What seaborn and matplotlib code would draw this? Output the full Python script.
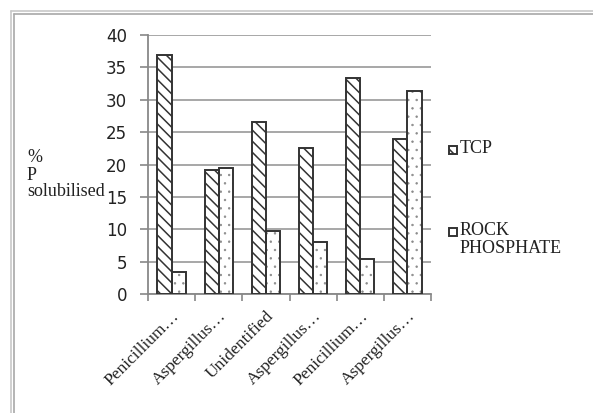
import matplotlib
matplotlib.use("Agg")
import matplotlib.pyplot as plt
import matplotlib.transforms as mtransforms
from matplotlib.patches import Patch, Rectangle
from matplotlib.lines import Line2D
from matplotlib.legend_handler import HandlerPatch
import seaborn as sns
import pandas as pd

# Fungal isolates and percentage of phosphate solubilised
isolates = ["Penicillium…", "Aspergillus…", "Unidentified",
            "Aspergillus…", "Penicillium…", "Aspergillus…"]
tcp = [36.9, 19.2, 26.5, 22.6, 33.4, 23.9]
rock_phosphate = [3.4, 19.5, 9.7, 8.0, 5.4, 31.3]
series = ["TCP", "ROCK\nPHOSPHATE"]
y_ticks = [0, 5, 10, 15, 20, 25, 30, 35, 40]

rows = []
for i, name in enumerate(isolates):
    rows.append({"isolate": i, "source": series[0], "value": tcp[i]})
    rows.append({"isolate": i, "source": series[1], "value": rock_phosphate[i]})
df = pd.DataFrame(rows)

sns.set_style("white")
plt.rcParams["hatch.linewidth"] = 1.1
serif = "Liberation Serif"
edge = "#333333"
dot_col = "#8a8a8a"

fig = plt.figure(figsize=(5.93, 4.13), dpi=100)
ax = fig.add_axes([148 / 593, 1 - 294 / 413, 283 / 593, 259 / 413])

sns.barplot(data=df, x="isolate", y="value", hue="source", hue_order=series,
            palette=["white", "white"], width=0.6, gap=0, ax=ax,
            legend=False, errorbar=None, linewidth=1.4, edgecolor=edge,
            zorder=3)

hatches = ["\\\\\\", ".."]
hatch_cols = [edge, dot_col]
hatch_lws = [1.1, 0.5]


def style_hatch(p, h, hc, hlw):
    # hatch colour follows the edge colour, so the outline is drawn separately
    p.set_hatch(h)
    p.set_edgecolor(hc)
    if hasattr(p, "set_hatch_linewidth"):
        p.set_hatch_linewidth(hlw)


for cont, h, hc, hlw in zip(ax.containers, hatches, hatch_cols, hatch_lws):
    for bar in cont:
        style_hatch(bar, h, hc, hlw)
        bar.set_linewidth(0)
        bar.set_zorder(3)
        outline = Rectangle(bar.get_xy(), bar.get_width(), bar.get_height(),
                            facecolor="none", edgecolor=edge, linewidth=1.4,
                            zorder=4)
        ax.add_patch(outline)

ax.set_ylim(0, 40)
ax.set_xlim(-0.5, len(isolates) - 0.5)
ax.set_yticks(y_ticks)
ax.set_yticklabels([str(t) for t in y_ticks], fontsize=12, color="#222222",
                   family="DejaVu Sans")
ax.yaxis.grid(True, color="#a0a0a0", linewidth=1.3, zorder=0)
ax.set_axisbelow(True)

ax.set_xticks(range(len(isolates)))
ax.set_xticklabels(isolates, rotation=45, ha="right", rotation_mode="anchor",
                   fontsize=12.5, family=serif, color="#222222")
shift = mtransforms.ScaledTranslation(4 / 100, 1 / 100, fig.dpi_scale_trans)
for lab in ax.get_xticklabels():
    lab.set_transform(lab.get_transform() + shift)
ax.set_xticks([i - 0.5 for i in range(len(isolates) + 1)], minor=True)
ax.tick_params(axis="x", which="major", length=0, pad=10)
ax.tick_params(axis="x", which="minor", length=5, width=1.2, color="#888888",
               direction="out", bottom=True)
ax.tick_params(axis="y", length=6, width=1.2, color="#888888", direction="out",
               left=True, pad=9)
ax.set_xlabel("")

for side in ["top", "right"]:
    ax.spines[side].set_visible(False)
for side in ["left", "bottom"]:
    ax.spines[side].set_color("#888888")
    ax.spines[side].set_linewidth(1.3)

ax.set_ylabel("%\nP\nsolubilised", rotation=0, ha="left", va="center",
              multialignment="left", fontsize=13, family=serif,
              color="#222222", linespacing=1.0)
ax.yaxis.set_label_coords((27 - 148) / 283, (294 - 175) / 259)


def square_key(legend, orig_handle, xdescent, ydescent, width, height, fontsize):
    # small square sitting at the bottom of a taller key box
    return Rectangle((-xdescent, -ydescent), width, width)


handles = [Patch(facecolor="white", edgecolor=edge, hatch=hatches[0], linewidth=1.4),
           Patch(facecolor="white", edgecolor=edge, linewidth=1.4)]
leg = fig.legend(handles, series, loc="upper left",
                 bbox_to_anchor=(449 / 593, 1 - 140 / 413),
                 frameon=False, handlelength=0.45,
                 handleheight=0.8, handletextpad=0.15, labelspacing=3.6,
                 borderpad=0, borderaxespad=0,
                 handler_map={Patch: HandlerPatch(patch_func=square_key)},
                 prop={"family": serif, "size": 13})
for t in leg.get_texts():
    t.set_color("#222222")
    t.set_linespacing(1.05)
# put each key square beside the first line of its label
for col in leg._legend_handle_box.get_children():
    for row in col.get_children():
        row.align = "top"

# light double frame along top and left edge
for off, col in [(11, "#c8c8c8"), (14, "#a8a8a8")]:
    fig.add_artist(Line2D([off / 593, 1], [1 - off / 413, 1 - off / 413],
                          color=col, linewidth=1.2, transform=fig.transFigure))
    fig.add_artist(Line2D([off / 593, off / 593], [0, 1 - off / 413],
                          color=col, linewidth=1.2, transform=fig.transFigure))

fig.savefig("out.png", dpi=100)
